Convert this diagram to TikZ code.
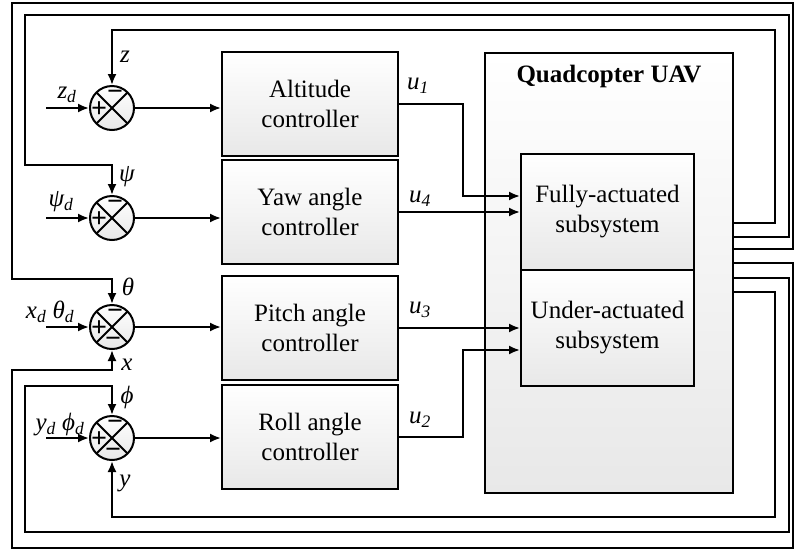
\documentclass[tikz,border=0pt]{standalone}
\usepackage{fontspec}
\setmainfont{Liberation Serif}
\usetikzlibrary{arrows.meta,positioning}
\newcommand{\vlab}[2]{{\itshape #1\textsubscript{#2}}}
\tikzset{
	sig/.style={line width=2pt,-{Latex[length=11pt,width=9pt]}},
	wire/.style={line width=2pt},
	shade/.style={top color=white,bottom color=gray!18},
	block/.style={draw,line width=2pt,rectangle,align=center,shade,minimum width=176pt,minimum height=104pt,font=\fontsize{25}{30}\selectfont},
	subsys/.style={block,minimum width=173pt,minimum height=116pt},
	sumnode/.style={circle,draw,line width=2pt,inner sep=0pt,minimum size=44pt,shade,
		path picture={\draw[line width=2pt] (path picture bounding box.north west) -- (path picture bounding box.south east)
			(path picture bounding box.north east) -- (path picture bounding box.south west);}},
	sign/.style={inner sep=0pt,font=\fontsize{28}{28}\selectfont\bfseries},
	lab/.style={inner sep=0pt,font=\fontsize{25}{25}\selectfont\itshape}
}

\begin{document}
\begin{tikzpicture}[x=1pt,y=-1pt]
	\useasboundingbox (0,0) rectangle (794,552);
	% summing junctions
	\node[sumnode] (sumz) at (112,108) {};
	\node[sumnode] (sumpsi) at (112,218) {};
	\node[sumnode] (sumtheta) at (112,327) {};
	\node[sumnode] (sumphi) at (112,438) {};
	\foreach \s in {sumz,sumpsi,sumtheta,sumphi}{
		\node[sign] (\s-m) at ([xshift=3pt,yshift=13pt]\s.center) {−};
		\node[sign] (\s-p) at ([xshift=-13pt,yshift=-2pt]\s.center) {+};
	}
	\node[sign] (sumtheta-b) at ([xshift=1pt,yshift=-15pt]sumtheta.center) {−};
	\node[sign] (sumphi-b) at ([xshift=1pt,yshift=-15pt]sumphi.center) {−};
	% controllers
	\node[block] (ctrlalt) at (310,104) {Altitude\\controller};
	\node[block] (ctrlyaw) at (310,212) {Yaw angle\\controller};
	\node[block] (ctrlpitch) at (310,328) {Pitch angle\\controller};
	\node[block] (ctrlroll) at (310,437) {Roll angle\\controller};
	% plant
	\node[draw,line width=2pt,shade,minimum width=248pt,minimum height=440pt] (uav) at (609,273) {};
	\node[inner sep=0pt,font=\fontsize{25}{25}\selectfont\bfseries] (uavtitle) at (609,76) {Quadcopter UAV};
	\node[subsys] (fully) at (607.5,211.5) {Fully-actuated\\subsystem};
	\node[subsys,below=-2pt of fully] (under) {Under-actuated\\subsystem};
	% references
	\foreach \s in {sumz,sumpsi,sumtheta,sumphi}
		\draw[sig] ([xshift=-43pt]\s.west) -- (\s.west);
	\node[lab] (labzd) at (67,95) {\vlab{z}{d}};
	\node[lab] (labpsid) at (61,202) {\vlab{ψ}{d}};
	\node[lab] (labthetad) at (50,312) {\vlab{x}{d} \vlab{θ}{d}};
	\node[lab] (labphid) at (60,425) {\vlab{y}{d} \vlab{ϕ}{d}};
	% errors to controllers
	\draw[sig] (sumz) -- (sumz -| ctrlalt.west);
	\draw[sig] (sumpsi) -- (sumpsi -| ctrlyaw.west);
	\draw[sig] (sumtheta) -- (sumtheta -| ctrlpitch.west);
	\draw[sig] (sumphi) -- (sumphi -| ctrlroll.west);
	% control inputs
	\draw[sig] (ctrlalt.east) -| (463,196) -- (fully.west |- 463,196);
	\draw[sig] (ctrlyaw.east) -- (ctrlyaw.east -| fully.west);
	\draw[sig] (ctrlpitch.east) -- (ctrlpitch.east -| under.west);
	\draw[sig] (ctrlroll.east) -| (463,350) -- (under.west |- 463,350);
	\node[lab] (labu1) at (418,86) {\vlab{u}{1}};
	\node[lab] (labu4) at (420,199) {\vlab{u}{4}};
	\node[lab] (labu3) at (420,310) {\vlab{u}{3}};
	\node[lab] (labu2) at (420,420) {\vlab{u}{2}};
	% feedback
	\draw[sig] (uav.east |- 0,223) -| (775,30) -| (sumz.north);
	\draw[sig] (uav.east |- 0,237) -| (789,15) -| (25,165) -| (sumpsi.north);
	\draw[sig] (uav.east |- 0,249) -| (793,3) -| (12,279) -| (sumtheta.north);
	\draw[sig] (uav.east |- 0,263) -| (793,548) -| (12,370) -| (sumtheta.south);
	\draw[sig] (uav.east |- 0,278) -| (789,532) -| (25,386) -| (sumphi.north);
	\draw[sig] (uav.east |- 0,292) -| (775,517) -| (sumphi.south);
	\node[lab] (labz) at (125,57) {z};
	\node[lab] (labpsi) at (127,177) {ψ};
	\node[lab] (labtheta) at (128,287) {θ};
	\node[lab] (labx) at (127,365) {x};
	\node[lab] (labphi) at (127,397) {ϕ};
	\node[lab] (laby) at (125,483) {y};
\end{tikzpicture}
\end{document}
